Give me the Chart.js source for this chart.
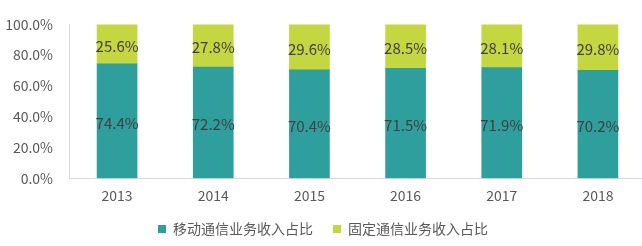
<!DOCTYPE html>
<html>
<head>
<meta charset="utf-8">
<script src="https://cdn.jsdelivr.net/npm/chart.js@4/dist/chart.umd.min.js"></script>
<style>
html,body{margin:0;padding:0;background:#fff;overflow:hidden;}
#wrap{width:650px;height:246px;position:relative;}
</style>
</head>
<body>
<div id="wrap"><canvas id="c" width="650" height="246"></canvas></div>
<script>
const categories = ['2013','2014','2015','2016','2017','2018'];
const mobileShare = [74.4, 72.2, 70.4, 71.5, 71.9, 70.2];
const fixedShare = [25.6, 27.8, 29.6, 28.5, 28.1, 29.8];
const seriesNames = ['移动通信业务收入占比', '固定通信业务收入占比'];
const yTicks = [0, 20, 40, 60, 80, 100];

const FONT = "'Noto Sans CJK SC', 'Noto Sans', sans-serif";

const labelPlugin = {
  id: 'segLabels',
  afterDatasetsDraw(chart) {
    const ctx = chart.ctx;
    ctx.save();
    ctx.font = "15px " + FONT;
    ctx.fillStyle = '#404040';
    ctx.textAlign = 'center';
    ctx.textBaseline = 'middle';
    chart.data.datasets.forEach((ds, di) => {
      const meta = chart.getDatasetMeta(di);
      meta.data.forEach((bar, i) => {
        const p = bar.getProps(['x','y','base'], true);
        const cy = (p.y + p.base) / 2 + 2;
        ctx.fillText(ds.data[i].toFixed(1) + '%', p.x, cy);
      });
    });
    ctx.restore();
  }
};

new Chart(document.getElementById('c'), {
  type: 'bar',
  data: {
    labels: categories,
    datasets: [
      { label: seriesNames[0], data: mobileShare, backgroundColor: '#2e9f9c', borderWidth: 0 },
      { label: seriesNames[1], data: fixedShare, backgroundColor: '#c4d740', borderWidth: 0 }
    ]
  },
  options: {
    responsive: false,
    animation: false,
    devicePixelRatio: 1,
    layout: { padding: { top: 16, left: 0, right: 4, bottom: 0 } },
    datasets: { bar: { barThickness: 40 } },
    scales: {
      x: {
        stacked: true,
        afterFit(scale) { scale.height -= 11; },
        grid: { display: false, drawTicks: false },
        border: { display: true, color: '#d9d9d9', width: 1 },
        ticks: { color: '#595959', font: { family: FONT, size: 14 }, padding: 9 }
      },
      y: {
        stacked: true,
        min: 0, max: 100,
        afterBuildTicks(scale) { scale.ticks = yTicks.map(v => ({ value: v })); },
        afterFit(scale) { scale.width = 69; },
        grid: { display: false, drawTicks: false },
        border: { display: true, color: '#d9d9d9', width: 1 },
        ticks: {
          color: '#595959', font: { family: FONT, size: 14 }, padding: 16,
          callback: v => v.toFixed(1) + '%'
        }
      }
    },
    plugins: {
      legend: {
        position: 'bottom',
        labels: {
          color: '#595959', font: { family: FONT, size: 14 },
          boxWidth: 8, boxHeight: 8, padding: 20
        }
      },
      tooltip: { enabled: false }
    }
  },
  plugins: [labelPlugin]
});
</script>
</body>
</html>
